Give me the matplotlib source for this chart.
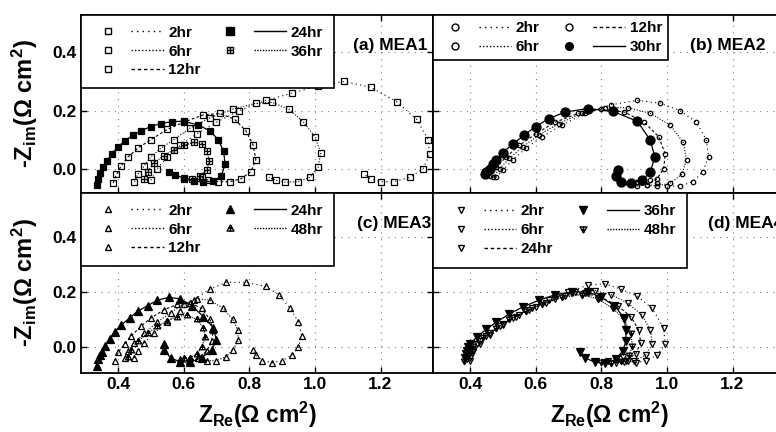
import matplotlib
matplotlib.use("Agg")
import matplotlib.pyplot as plt
from matplotlib.path import Path
from matplotlib.lines import Line2D
from matplotlib.legend_handler import HandlerTuple

plt.rcParams['font.family'] = ['Liberation Sans', 'DejaVu Sans']
plt.rcParams['font.weight'] = 'bold'
plt.rcParams['mathtext.fontset'] = 'custom'
plt.rcParams['mathtext.rm'] = 'Liberation Sans:bold'
plt.rcParams['mathtext.bf'] = 'Liberation Sans:bold'
plt.rcParams['mathtext.it'] = 'Liberation Sans:bold'

# ---- data (Z_re, -Z_im) ----
# (a) MEA1
a_2hr = [(0.50, -0.04), (0.52, 0.0), (0.55, 0.04), (0.59, 0.08), (0.64, 0.12), (0.70, 0.16),
         (0.77, 0.20), (0.85, 0.235), (0.93, 0.26), (1.01, 0.285), (1.09, 0.30), (1.17, 0.28),
         (1.25, 0.23), (1.31, 0.17), (1.345, 0.10), (1.35, 0.05), (1.33, 0.0), (1.29, -0.03),
         (1.24, -0.045), (1.20, -0.045), (1.17, -0.035), (1.15, -0.02)]
a_6hr = [(0.45, -0.045), (0.46, -0.02), (0.48, 0.01), (0.50, 0.04), (0.53, 0.07), (0.57, 0.10),
         (0.62, 0.14), (0.68, 0.175), (0.75, 0.205), (0.82, 0.225), (0.87, 0.228), (0.92, 0.205),
         (0.965, 0.16), (1.0, 0.11), (1.018, 0.055), (1.01, 0.005), (0.985, -0.03), (0.95, -0.045),
         (0.91, -0.047), (0.88, -0.04), (0.86, -0.03)]
a_12hr = [(0.385, -0.05), (0.395, -0.02), (0.41, 0.01), (0.43, 0.04), (0.46, 0.07), (0.50, 0.10),
          (0.55, 0.135), (0.60, 0.16), (0.66, 0.185), (0.71, 0.19), (0.755, 0.17), (0.79, 0.13),
          (0.812, 0.08), (0.82, 0.03), (0.805, -0.01), (0.775, -0.035), (0.74, -0.045),
          (0.705, -0.045), (0.675, -0.04), (0.655, -0.03)]
a_24hr = [(0.335, -0.055), (0.34, -0.035), (0.345, -0.015), (0.355, 0.005), (0.365, 0.025),
          (0.38, 0.05), (0.40, 0.075), (0.42, 0.095), (0.445, 0.115), (0.47, 0.13), (0.50, 0.145),
          (0.53, 0.155), (0.565, 0.162), (0.60, 0.163), (0.645, 0.15), (0.68, 0.13), (0.705, 0.10),
          (0.722, 0.06), (0.726, 0.015), (0.715, -0.025), (0.69, -0.043), (0.66, -0.047),
          (0.63, -0.042), (0.60, -0.033), (0.575, -0.022), (0.555, -0.01)]
a_36hr = [(0.48, -0.035), (0.49, -0.01), (0.51, 0.02), (0.54, 0.045), (0.57, 0.065), (0.60, 0.08),
          (0.63, 0.09), (0.655, 0.085), (0.672, 0.06), (0.678, 0.025), (0.67, -0.005),
          (0.65, -0.025), (0.625, -0.035), (0.60, -0.035)]

# (b) MEA2
b_2hr = [(0.48, -0.03), (0.50, -0.005), (0.53, 0.03), (0.57, 0.07), (0.62, 0.11), (0.68, 0.15),
         (0.75, 0.19), (0.83, 0.22), (0.91, 0.235), (0.98, 0.225), (1.04, 0.20), (1.09, 0.16),
         (1.12, 0.10), (1.127, 0.04), (1.11, -0.01), (1.08, -0.045), (1.04, -0.06), (1.0, -0.06),
         (0.97, -0.05), (0.95, -0.04)]
b_6hr = [(0.47, -0.03), (0.49, 0.0), (0.52, 0.035), (0.56, 0.075), (0.61, 0.115), (0.67, 0.155),
         (0.74, 0.19), (0.81, 0.21), (0.88, 0.21), (0.95, 0.19), (1.01, 0.15), (1.05, 0.09),
         (1.06, 0.03), (1.045, -0.02), (1.01, -0.05), (0.97, -0.06), (0.94, -0.055), (0.91, -0.045)]
b_12hr = [(0.46, -0.025), (0.48, 0.005), (0.51, 0.04), (0.55, 0.08), (0.60, 0.12), (0.66, 0.16),
          (0.73, 0.19), (0.80, 0.205), (0.87, 0.195), (0.93, 0.16), (0.975, 0.11), (0.995, 0.05),
          (0.99, 0.0), (0.97, -0.035), (0.94, -0.055), (0.91, -0.06), (0.88, -0.05)]
b_30hr = [(0.445, -0.02), (0.45, -0.01), (0.46, 0.0), (0.47, 0.015), (0.48, 0.03), (0.50, 0.055),
          (0.53, 0.085), (0.565, 0.115), (0.60, 0.145), (0.64, 0.172), (0.69, 0.195), (0.76, 0.207),
          (0.835, 0.197), (0.91, 0.163), (0.95, 0.097), (0.963, 0.04), (0.95, -0.01), (0.925, -0.04),
          (0.89, -0.05), (0.86, -0.045), (0.845, -0.025), (0.85, -0.005)]

# (c) MEA3
c_2hr = [(0.45, -0.04), (0.46, -0.015), (0.48, 0.015), (0.51, 0.05), (0.55, 0.09), (0.59, 0.13),
         (0.63, 0.17), (0.68, 0.21), (0.73, 0.235), (0.79, 0.235), (0.85, 0.22), (0.89, 0.19),
         (0.925, 0.14), (0.95, 0.09), (0.96, 0.04), (0.95, 0.0), (0.93, -0.03), (0.90, -0.05),
         (0.87, -0.058), (0.84, -0.05), (0.82, -0.03), (0.81, -0.01)]
c_6hr = [(0.42, -0.04), (0.43, -0.015), (0.45, 0.015), (0.48, 0.05), (0.52, 0.09), (0.56, 0.125),
         (0.60, 0.155), (0.64, 0.175), (0.68, 0.17), (0.72, 0.14), (0.75, 0.10), (0.765, 0.06),
         (0.767, 0.025), (0.75, -0.01), (0.73, -0.035), (0.70, -0.05), (0.67, -0.05), (0.645, -0.04)]
c_12hr = [(0.39, -0.05), (0.40, -0.02), (0.42, 0.01), (0.44, 0.04), (0.47, 0.075), (0.50, 0.105),
          (0.54, 0.135), (0.58, 0.155), (0.62, 0.16), (0.655, 0.14), (0.68, 0.10), (0.69, 0.06),
          (0.685, 0.02), (0.67, -0.015), (0.645, -0.04), (0.615, -0.05), (0.59, -0.045)]
c_24hr = [(0.335, -0.07), (0.34, -0.045), (0.345, -0.03), (0.35, -0.02), (0.36, 0.005), (0.375, 0.03),
          (0.39, 0.055), (0.41, 0.08), (0.435, 0.105), (0.46, 0.13), (0.49, 0.15), (0.52, 0.17),
          (0.555, 0.18), (0.59, 0.175), (0.625, 0.15), (0.66, 0.11), (0.69, 0.07), (0.70, 0.025),
          (0.685, -0.01), (0.655, -0.04), (0.62, -0.055), (0.59, -0.055), (0.56, -0.04),
          (0.54, -0.01), (0.54, 0.01)]
c_48hr = [(0.43, -0.035), (0.44, -0.01), (0.46, 0.02), (0.49, 0.05), (0.52, 0.075), (0.55, 0.095),
          (0.58, 0.11), (0.61, 0.115), (0.64, 0.10), (0.66, 0.07), (0.665, 0.035), (0.655, 0.0),
          (0.64, -0.025), (0.62, -0.04), (0.60, -0.04)]

# (d) MEA4
d_2hr = [(0.40, -0.05), (0.41, -0.02), (0.43, 0.01), (0.46, 0.045), (0.50, 0.08), (0.54, 0.11),
         (0.59, 0.14), (0.64, 0.17), (0.70, 0.20), (0.76, 0.225), (0.81, 0.23), (0.86, 0.21),
         (0.91, 0.185), (0.955, 0.14), (0.99, 0.07), (0.995, 0.01), (0.97, -0.03), (0.935, -0.05),
         (0.905, -0.058), (0.88, -0.05), (0.865, -0.035)]
d_6hr = [(0.40, -0.04), (0.41, -0.01), (0.43, 0.02), (0.46, 0.05), (0.50, 0.085), (0.55, 0.115),
         (0.60, 0.145), (0.66, 0.175), (0.72, 0.20), (0.78, 0.205), (0.83, 0.19), (0.88, 0.16),
         (0.925, 0.115), (0.95, 0.06), (0.955, 0.01), (0.935, -0.03), (0.90, -0.05), (0.87, -0.055),
         (0.845, -0.045)]
d_24hr = [(0.39, -0.045), (0.40, -0.02), (0.42, 0.01), (0.45, 0.04), (0.49, 0.075), (0.53, 0.105),
          (0.58, 0.135), (0.63, 0.16), (0.69, 0.185), (0.75, 0.195), (0.80, 0.18), (0.85, 0.15),
          (0.89, 0.11), (0.915, 0.06), (0.92, 0.015), (0.905, -0.025), (0.875, -0.05), (0.845, -0.058),
          (0.82, -0.05)]
d_36hr = [(0.385, -0.04), (0.387, -0.025), (0.39, -0.015), (0.395, 0.0), (0.40, 0.01), (0.42, 0.035),
          (0.45, 0.065), (0.48, 0.09), (0.52, 0.12), (0.56, 0.145), (0.61, 0.17), (0.66, 0.19),
          (0.71, 0.20), (0.76, 0.20), (0.80, 0.18), (0.84, 0.15), (0.87, 0.105), (0.875, 0.06),
          (0.875, 0.02), (0.865, -0.015), (0.845, -0.045), (0.81, -0.06), (0.78, -0.055),
          (0.75, -0.04), (0.735, -0.02)]
d_48hr = [(0.38, -0.05), (0.39, -0.025), (0.41, 0.005), (0.44, 0.035), (0.48, 0.07), (0.52, 0.10),
          (0.57, 0.13), (0.62, 0.155), (0.68, 0.18), (0.74, 0.19), (0.79, 0.175), (0.835, 0.14),
          (0.87, 0.10), (0.89, 0.05), (0.895, 0.005), (0.885, -0.03), (0.86, -0.05), (0.83, -0.06),
          (0.80, -0.055)]

# ---- custom markers ----
M, L, C = Path.MOVETO, Path.LINETO, Path.CLOSEPOLY
box_plus = Path([(-1, -1), (1, -1), (1, 1), (-1, 1), (-1, -1), (-1, 0), (1, 0), (0, -1), (0, 1)],
                [M, L, L, L, C, M, L, M, L])
tri_up_plus = Path([(0, 1), (-1, -0.75), (1, -0.75), (0, 1), (0, 1), (0, -0.75), (-0.55, 0.05), (0.55, 0.05)],
                   [M, L, L, C, M, L, M, L])
tri_dn_plus = Path([(0, -1), (-1, 0.75), (1, 0.75), (0, -1), (0, -1), (0, 0.75), (-0.55, -0.05), (0.55, -0.05)],
                   [M, L, L, C, M, L, M, L])

sparse = (0, (1, 3))
fine = (0, (1, 1.5))
dash = (0, (2.5, 2))
thin = (0, (1, 1))

# title, title x, marker size (open, filled), legend pad, series: label, data, marker, filled, linestyle
panels = [
    ('(a) MEA1', 0.773, (4.5, 4.8), 0.7,
     [('2hr', a_2hr, 's', False, sparse), ('6hr', a_6hr, 's', False, fine),
      ('12hr', a_12hr, 's', False, dash), ('24hr', a_24hr, 's', True, '-'),
      ('36hr', a_36hr, box_plus, False, thin)]),
    ('(b) MEA2', 0.73, (3.2, 6.5), 0.4,
     [('2hr', b_2hr, 'o', False, sparse), ('6hr', b_6hr, 'o', False, fine),
      ('12hr', b_12hr, 'o', False, dash), ('30hr', b_30hr, 'o', True, '-')]),
    ('(c) MEA3', 0.784, (4.5, 5.2), 0.7,
     [('2hr', c_2hr, '^', False, sparse), ('6hr', c_6hr, '^', False, fine),
      ('12hr', c_12hr, '^', False, dash), ('24hr', c_24hr, '^', True, '-'),
      ('48hr', c_48hr, tri_up_plus, False, thin)]),
    ('(d) MEA4', 0.78, (4.5, 5.2), 0.75,
     [('2hr', d_2hr, 'v', False, sparse), ('6hr', d_6hr, 'v', False, fine),
      ('24hr', d_24hr, 'v', False, dash), ('36hr', d_36hr, 'v', True, '-'),
      ('48hr', d_48hr, tri_dn_plus, False, thin)]),
]

W, H = 776, 432
fig = plt.figure(figsize=(W / 100, H / 100), dpi=100)
boxes = [(81, 15, 352, 178), (433, 15, 352, 178), (81, 193, 352, 180), (433, 193, 352, 180)]
ylims = [(-0.084, 0.529), (-0.084, 0.529), (-0.095, 0.56), (-0.095, 0.56)]

for i, ((title, tx, sizes, bpad, series), (x0, y0, w, h)) in enumerate(zip(panels, boxes)):
    ax = fig.add_axes([x0 / W, 1 - (y0 + h) / H, w / W, h / H])
    ax.set_xlim(0.287, 1.36)
    ax.set_ylim(*ylims[i])
    ax.set_xticks([0.4, 0.6, 0.8, 1.0, 1.2])
    ax.set_yticks([0.0, 0.2, 0.4])
    ax.grid(True, color='0.5', linestyle=(0, (1, 5)), linewidth=0.8)
    ax.tick_params(direction='in', length=4, width=1, top=True, right=True,
                   labelsize=12.5, pad=3)
    for lab in ax.get_xticklabels() + ax.get_yticklabels():
        lab.set_fontweight('bold')
    for s in ax.spines.values():
        s.set_linewidth(1.3)
    if i < 2:
        ax.tick_params(labelbottom=False)
    if i % 2 == 1:
        ax.tick_params(labelleft=False)
    if i % 2 == 0:
        ax.set_ylabel(r'-Z$_{\mathrm{im}}$($\Omega$ cm$^{\mathrm{2}}$)', fontsize=17, fontweight='bold')
        ax.yaxis.set_label_coords(-0.117, 0.5)
    if i >= 2:
        ax.set_xlabel(r'Z$_{\mathrm{Re}}$($\Omega$ cm$^{\mathrm{2}}$)', fontsize=16.5, fontweight='bold')
        ax.xaxis.set_label_coords(0.5, -0.15)

    handles, labels = [], []
    for label, pts, marker, filled, ls in series:
        xs = [p[0] for p in pts]
        ys = [p[1] for p in pts]
        ax.plot(xs, ys, ls=ls, color='k', lw=0.9 if filled else 0.8,
                marker=marker, ms=sizes[1] if filled else sizes[0], mew=0.9,
                mfc='k' if filled else 'none', mec='k', zorder=4 if filled else 3)
        mk = Line2D([], [], ls='none', marker=marker, ms=5.5 if filled else 5, mew=1, color='k',
                    mfc='k' if filled else 'none')
        ln = Line2D([], [], ls=ls, color='k', lw=1)
        handles.append((mk, ln))
        labels.append(label)
    leg = ax.legend(handles, labels, handler_map={tuple: HandlerTuple(ndivide=None, pad=0.5)},
                    loc='upper left', bbox_to_anchor=(0, 1), borderaxespad=0, ncol=2,
                    handlelength=4.7, handletextpad=0.3, columnspacing=0.9,
                    labelspacing=0.32, borderpad=bpad, fancybox=False, framealpha=1,
                    edgecolor='k', prop={'weight': 'bold', 'size': 11})
    leg.get_frame().set_linewidth(1.2)
    leg.set_zorder(10)
    ax.text(tx, 0.83, title, transform=ax.transAxes, ha='left', va='center',
            fontsize=12.5, fontweight='bold')

fig.savefig('out.png', dpi=100)
